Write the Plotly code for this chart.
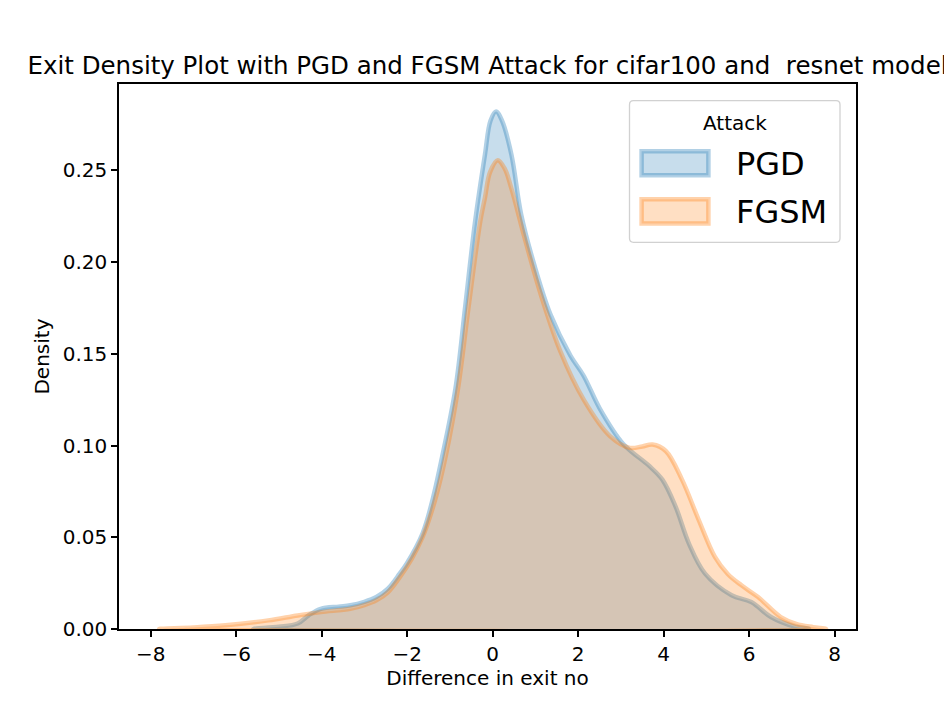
import plotly.graph_objects as go

# KDE curves (x = difference in exit no, y = density)
pgd_x = [-5.6, -5.0, -4.56, -4.3, -4.02, -3.6, -3.33, -3.0, -2.72, -2.45, -2.18, -2.0,
         -1.64, -1.41, -1.18, -0.87, -0.64, -0.41, -0.18, -0.05, 0.08, 0.22, 0.44,
         0.67, 0.98, 1.36, 1.82, 2.13, 2.51, 3.05, 3.67, 3.97, 4.28, 4.59, 4.97,
         5.59, 6.05, 6.51, 7.05, 7.4]
pgd_y = [0.0, 0.0012, 0.003, 0.0075, 0.011, 0.0122, 0.0129, 0.0148, 0.0174, 0.022, 0.030, 0.036,
         0.052, 0.070, 0.094, 0.131, 0.176, 0.222, 0.2585, 0.277, 0.282, 0.277, 0.2585,
         0.2256, 0.198, 0.171, 0.149, 0.138, 0.120, 0.101, 0.0887, 0.0814, 0.0667, 0.0467, 0.0302,
         0.0184, 0.0147, 0.0065, 0.0014, 0.0]

fgsm_x = [-7.8, -7.0, -6.25, -5.25, -4.56, -4.02, -3.33, -3.0, -2.72, -2.45, -2.18, -1.9,
          -1.64, -1.35, -1.10, -0.81, -0.56, -0.29, -0.18, -0.06, 0.12, 0.28, 0.44,
          0.75, 1.13, 1.59, 2.13, 2.75, 3.21, 3.5, 3.74, 4.05, 4.43, 4.82, 5.20,
          5.5, 5.82, 6.21, 6.74, 7.1, 7.5, 7.8]
fgsm_y = [0.0, 0.0008, 0.002, 0.0047, 0.0074, 0.0092, 0.011, 0.013, 0.0156, 0.020, 0.028, 0.038,
          0.050, 0.070, 0.094, 0.131, 0.176, 0.222, 0.235, 0.249, 0.2555, 0.251, 0.240,
          0.213, 0.182, 0.151, 0.125, 0.105, 0.0987, 0.0995, 0.1005, 0.097, 0.0814, 0.0595, 0.0393,
          0.030, 0.0238, 0.0174, 0.0065, 0.0028, 0.001, 0.0]

x_ticks = [-8, -6, -4, -2, 0, 2, 4, 6, 8]
y_ticks = [0.0, 0.05, 0.10, 0.15, 0.20, 0.25]

attacks = ["PGD", "FGSM"]
colors = ["31,119,180", "255,127,14"]

font = "DejaVu Sans"

# plot area in page pixels (page has an 8px body margin)
PX0, PX1, PY0, PY1 = 119, 856, 84.3, 629


def px(x):
    return (x - PX0) / (PX1 - PX0)


def py(y):
    return (PY1 - y) / (PY1 - PY0)


fig = go.Figure()
for name, xs, ys, rgb in zip(attacks, [pgd_x, fgsm_x], [pgd_y, fgsm_y], colors):
    fig.add_trace(go.Scatter(
        x=xs + [xs[0]], y=ys + [ys[0]], name=name, mode="lines",
        fill="toself", fillcolor="rgba(%s,0.25)" % rgb,
        line=dict(color="rgba(%s,0.35)" % rgb, width=4.5, shape="spline", smoothing=1.0),
        hoverinfo="x+y", showlegend=False))

# legend drawn by hand (matplotlib style: rounded frame, patches)
shapes = []
bx0, bx1, by0, by1, r = px(629.5), px(840), py(101), py(242.5), 4
rx, ry = r / (PX1 - PX0), r / (PY1 - PY0)
shapes.append(dict(
    type="path", xref="paper", yref="paper",
    path=("M %f,%f L %f,%f Q %f,%f %f,%f L %f,%f Q %f,%f %f,%f L %f,%f Q %f,%f %f,%f "
          "L %f,%f Q %f,%f %f,%f Z") % (
        bx0 + rx, by0, bx1 - rx, by0, bx1, by0, bx1, by0 - ry,
        bx1, by1 + ry, bx1, by1, bx1 - rx, by1,
        bx0 + rx, by1, bx0, by1, bx0, by1 + ry,
        bx0, by0 - ry, bx0, by0, bx0 + rx, by0),
    fillcolor="rgba(255,255,255,0.8)", line=dict(color="rgba(204,204,204,0.9)", width=1.3),
    layer="above"))
annotations = [dict(text="Attack", x=px(735), y=py(123.5), xref="paper", yref="paper",
                    xanchor="center", yanchor="middle", showarrow=False,
                    font=dict(size=20, family=font, color="black"))]
for i, (name, rgb) in enumerate(zip(attacks, colors)):
    top = 151.6 + i * 48
    shapes.append(dict(type="rect", xref="paper", yref="paper",
                       x0=px(641.6), x1=px(708.4), y0=py(top), y1=py(top + 24),
                       fillcolor="rgba(%s,0.25)" % rgb,
                       line=dict(color="rgba(%s,0.35)" % rgb, width=4.5), layer="above"))
    annotations.append(dict(text=name, x=px(734), y=py(top + 13), xref="paper", yref="paper",
                            xanchor="left", yanchor="middle", showarrow=False,
                            font=dict(size=32, family=font, color="black")))

fig.update_layout(
    width=952, height=707,
    margin=dict(l=PX0 - 8, r=952 - (PX1 - 8), t=PY0 - 8, b=707 - (PY1 - 8)),
    plot_bgcolor="white", paper_bgcolor="white",
    font=dict(family=font, size=20, color="black"),
    title=dict(text="Exit Density Plot with PGD and FGSM Attack for cifar100 and  resnet model",
               x=0.5, xref="paper", xanchor="center", y=1 - 57 / 707, yref="container",
               yanchor="middle", font=dict(size=24.5)),
    showlegend=False,
    shapes=shapes, annotations=annotations,
)
fig.update_xaxes(
    range=[-8.74, 8.50], tickvals=x_ticks,
    ticktext=[str(v).replace("-", "\u2212") for v in x_ticks],
    title=dict(text="Difference in exit no", standoff=2, font=dict(size=20)),
    showgrid=False, zeroline=False, showline=True, mirror=True,
    linecolor="black", linewidth=1.5, ticks="outside", ticklen=6, tickwidth=1.5, tickcolor="black")
fig.update_yaxes(
    range=[0, 0.297], tickvals=y_ticks, tickformat=".2f",
    title=dict(text="Density", standoff=8, font=dict(size=20)),
    showgrid=False, zeroline=False, showline=True, mirror=True,
    linecolor="black", linewidth=1.5, ticks="outside", ticklen=6, tickwidth=1.5, tickcolor="black")

fig.write_html("out.html")
